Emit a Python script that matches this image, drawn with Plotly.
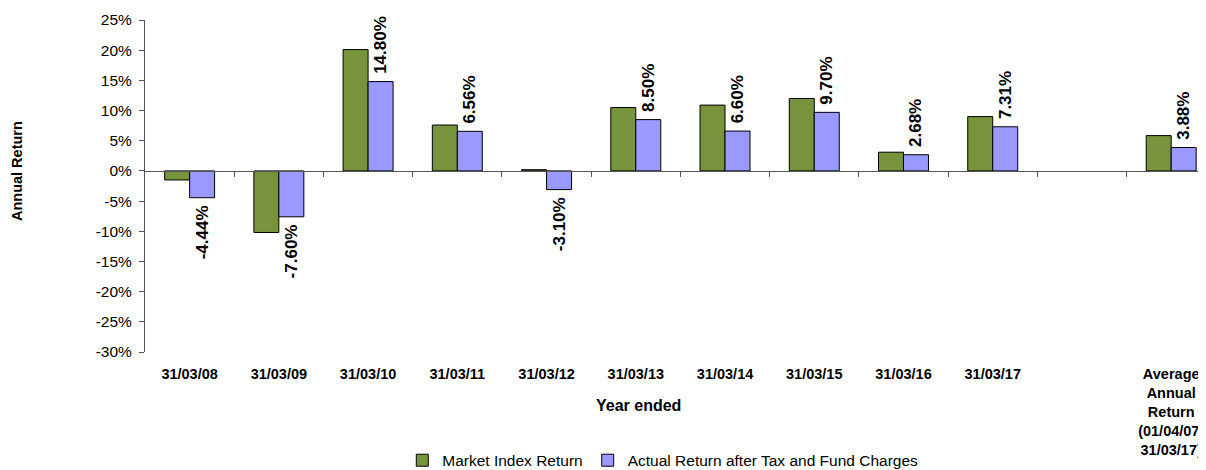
import plotly.graph_objects as go

categories = ["31/03/08", "31/03/09", "31/03/10", "31/03/11", "31/03/12", "31/03/13",
              "31/03/14", "31/03/15", "31/03/16", "31/03/17", " ",
              "Average<br>Annual<br>Return<br>(01/04/07-<br>31/03/17)"]
market_index = [-1.5, -10.2, 20.1, 7.6, 0.2, 10.5, 10.9, 12.0, 3.1, 9.0, None, 5.85]
actual_return = [-4.44, -7.60, 14.80, 6.56, -3.10, 8.50, 6.60, 9.70, 2.68, 7.31, None, 3.88]
y_ticks = [-30, -25, -20, -15, -10, -5, 0, 5, 10, 15, 20, 25]

Y_MIN, Y_MAX = -30, 25
FONT = "Liberation Sans, Arial, sans-serif"
AXIS_COLOR = "#555555"
PAD = "\u00a0"


def label(v):
    if v is None:
        return ""
    s = f"{v:.2f}%"
    # small spacing between the bar end and the rotated label
    return PAD + s if v >= 0 else s + PAD


actual_labels = [label(v) for v in actual_return]

fig = go.Figure()
fig.add_trace(go.Bar(
    x=categories, y=market_index, name="Market Index Return",
    marker=dict(color="#77933C", line=dict(color="#000000", width=1)),
))
fig.add_trace(go.Bar(
    x=categories, y=actual_return, name="Actual Return after Tax and Fund Charges",
    marker=dict(color="#9999FF", line=dict(color="#000000", width=1)),
    text=actual_labels, textposition="outside", textangle=-90, constraintext="none",
    textfont=dict(family=FONT, size=17, color="#000000", weight="bold"),
    cliponaxis=False,
))
# helper trace for the tick axis at the zero level
fig.add_trace(go.Scatter(x=[], y=[], xaxis="x2", showlegend=False, hoverinfo="skip"))

n = len(categories)
x_range = [-0.5, n - 0.5 - 0.11]
zero_pos = (0 - Y_MIN) / (Y_MAX - Y_MIN)

# the page body adds an 8px offset, so the figure is 8px smaller and margins shifted
fig.update_layout(
    width=1198, height=462,
    margin=dict(l=137, r=0, t=12, b=118, autoexpand=False),
    paper_bgcolor="white", plot_bgcolor="white",
    barmode="group", bargap=0.44, bargroupgap=0,
    font=dict(family=FONT, size=15, color="#000000"),
    showlegend=True,
    legend=dict(orientation="h", x=0.488, xanchor="center", y=-0.276, yanchor="top",
                font=dict(size=15.5), traceorder="normal", itemwidth=30),
    xaxis=dict(
        type="category", range=x_range, showline=False, showgrid=False, zeroline=False,
        ticks="outside", ticklen=9, tickcolor="rgba(0,0,0,0)", automargin=False,
        tickfont=dict(family=FONT, size=14.5, color="#000000", weight="bold"),
        tickangle=0,
    ),
    xaxis2=dict(
        overlaying="x", anchor="free", position=zero_pos, range=x_range,
        showline=True, linecolor=AXIS_COLOR, linewidth=1, showgrid=False, zeroline=False,
        tickmode="array", tickvals=[i + 0.5 for i in range(n - 1)], automargin=False,
        ticks="outside", ticklen=5, tickcolor=AXIS_COLOR, showticklabels=False,
    ),
    yaxis=dict(
        range=[Y_MIN, Y_MAX], tickmode="array", tickvals=y_ticks,
        ticktext=[f"{v}%" for v in y_ticks], automargin=False,
        showline=True, linecolor=AXIS_COLOR, linewidth=1,
        ticks="outside", ticklen=5, tickcolor=AXIS_COLOR, ticklabelstandoff=4,
        showgrid=False, zeroline=False,
        tickfont=dict(family=FONT, size=15.5, color="#000000"),
    ),
    annotations=[
        dict(text="<b>Annual Return</b>", textangle=-90, xref="paper", yref="paper",
             x=-128 / 1061, y=0.545, xanchor="center", yanchor="middle", showarrow=False,
             font=dict(family=FONT, size=14.5)),
        dict(text="<b>Year ended</b>", xref="paper", yref="paper",
             x=0.465, y=-0.16, xanchor="center", yanchor="middle", showarrow=False,
             font=dict(family=FONT, size=16)),
    ],
)

fig.write_html("out.html")
